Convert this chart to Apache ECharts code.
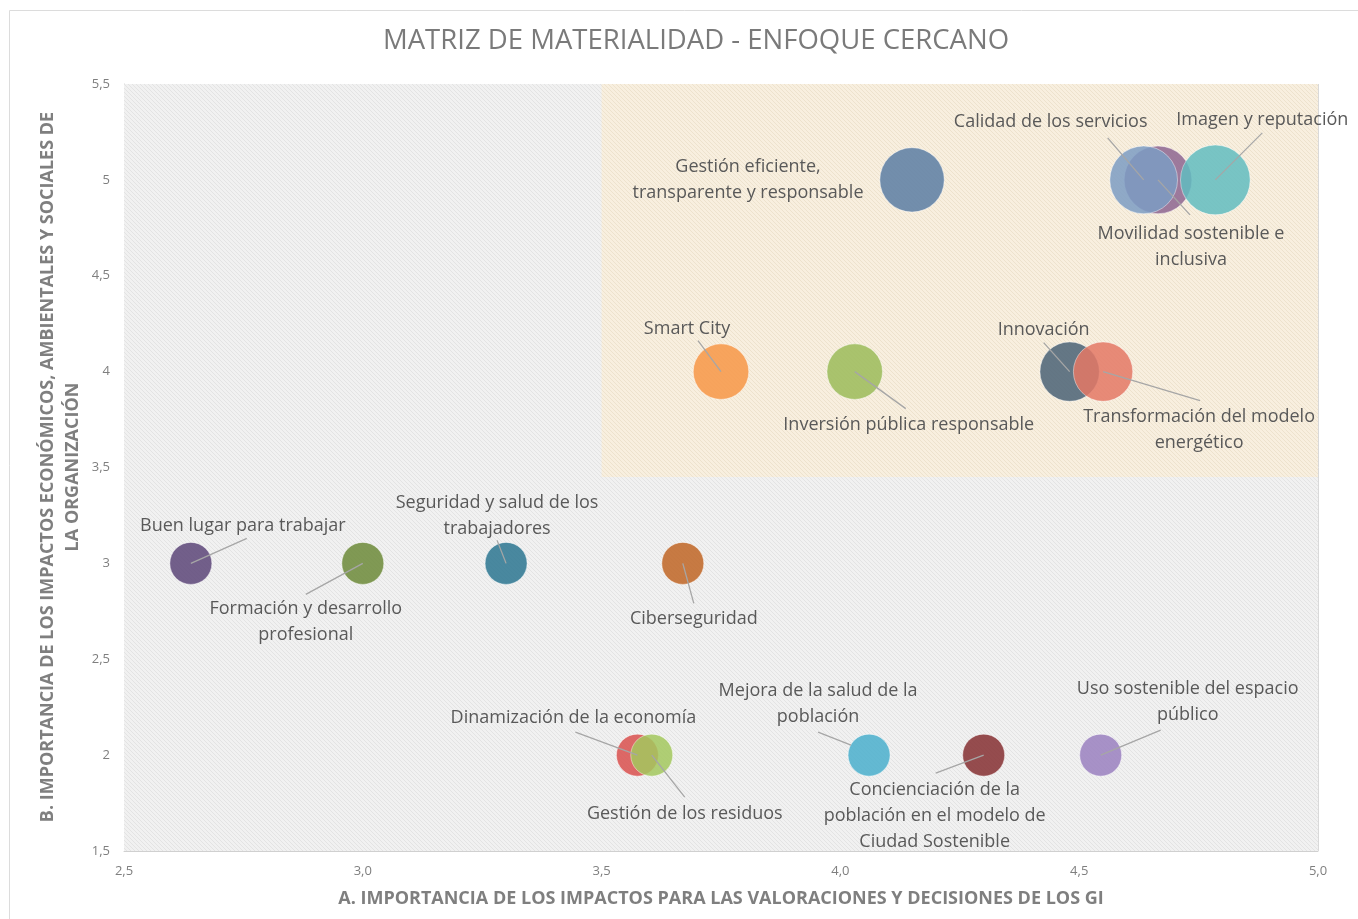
<!DOCTYPE html>
<html><head><meta charset="utf-8">
<script src="https://cdn.jsdelivr.net/npm/echarts@6/dist/echarts.min.js"></script>
<style>html,body{margin:0;padding:0;background:#fff}#c{width:1358px;height:919px}</style>
</head><body><div id="c"></div>
<script>
// ---------- DATA ----------
const temas = [
  'Buen lugar para trabajar',
  'Formación y desarrollo profesional',
  'Seguridad y salud de los trabajadores',
  'Ciberseguridad',
  'Smart City',
  'Inversión pública responsable',
  'Innovación',
  'Transformación del modelo energético',
  'Gestión eficiente, transparente y responsable',
  'Movilidad sostenible e inclusiva',
  'Calidad de los servicios',
  'Imagen y reputación',
  'Dinamización de la economía',
  'Gestión de los residuos',
  'Mejora de la salud de la población',
  'Concienciación de la población en el modelo de Ciudad Sostenible',
  'Uso sostenible del espacio público'
];
// A. Importancia para las valoraciones y decisiones de los GI
const importanciaA = [2.64, 3.00, 3.30, 3.67, 3.75, 4.03, 4.48, 4.55, 4.15, 4.665, 4.635, 4.785, 3.575, 3.605, 4.06, 4.30, 4.545];
// B. Importancia de los impactos económicos, ambientales y sociales
const importanciaB = [3, 3, 3, 3, 4, 4, 4, 4, 5, 5, 5, 5, 2, 2, 2, 2, 2];
// Peso (tamaño de la burbuja)
const peso = [2, 2, 2, 2, 3.5, 3.5, 4, 4, 4.7, 5.2, 5.2, 5.5, 2, 2, 2, 2, 2];
// Etiquetas mostradas
const etiquetas = [
  'Buen lugar para trabajar',
  'Formación y desarrollo\nprofesional',
  'Seguridad y salud de los\ntrabajadores',
  'Ciberseguridad',
  'Smart City',
  'Inversión pública responsable',
  'Innovación',
  'Transformación del modelo\nenergético',
  'Gestión eficiente,\ntransparente y responsable',
  'Movilidad sostenible e\ninclusiva',
  'Calidad de los servicios',
  'Imagen y reputación',
  'Dinamización de la economía',
  'Gestión de los residuos',
  'Mejora de la salud de la\npoblación',
  'Concienciación de la\npoblación en el modelo de\nCiudad Sostenible',
  'Uso sostenible del espacio\npúblico'
];
const xTickLabels = ['2,5', '3,0', '3,5', '4,0', '4,5', '5,0'];
const yTickLabels = ['1,5', '2', '2,5', '3', '3,5', '4', '4,5', '5', '5,5'];
const zonaX = [3.5, 5.0];
const zonaY = [3.45, 5.5];
const tituloEjeY = 'B. IMPORTANCIA DE LOS IMPACTOS ECONÓMICOS, AMBIENTALES Y SOCIALES DE\nLA ORGANIZACIÓN';

// ---------- STYLE / LAYOUT ----------
const colores = ['#5c4578', '#6c8a38', '#2c7690', '#bf6524', '#f79646', '#9bbb59', '#4a6275', '#e47865',
  '#5a7ca3', '#8d6590', '#7d9cc3', '#62bcbf', '#d9504e', '#a3c85e', '#4aafcc', '#852f31', '#9a80c0'];
// label offsets (px from bubble centre) and leader lines [x1,y1,x2,y2]
const ubicacion = [
  {dx: 52, dy: -38, line: [0, 0, 56, -25]},
  {dx: -57, dy: 58, line: [0, 0, -57, 31]},
  {dx: -9, dy: -48, line: [0, 0, -9, -23]},
  {dx: 11, dy: 55, line: [0, 0, 11, 40]},
  {dx: -34, dy: -43, line: [0, 0, -23, -31]},
  {dx: 54, dy: 53, line: [0, 0, 51, 37]},
  {dx: -26, dy: -42, line: [0, 0, -26, -29]},
  {dx: 96, dy: 58, line: [0, 0, 97, 29]},
  {dx: -164, dy: 0, line: null},
  {dx: 33, dy: 67, line: [0, 0, 32, 35]},
  {dx: -93, dy: -58, line: [0, 0, -36, -42]},
  {dx: 47, dy: -60, line: [0, 0, 47, -47]},
  {dx: -64, dy: -37, line: [0, 0, -62, -23]},
  {dx: 33, dy: 59, line: [0, 0, 33, 42]},
  {dx: -51, dy: -51, line: [-18, -10, -51, -23]},
  {dx: -49, dy: 61, line: [0, 0, -48, 18]},
  {dx: 87, dy: -53, line: [0, 0, 60, -25]}
];

function hatch(base, line) {
  const c = document.createElement('canvas');
  c.width = 4; c.height = 4;
  const g = c.getContext('2d');
  g.fillStyle = base; g.fillRect(0, 0, 4, 4);
  g.fillStyle = line;
  for (let i = 0; i < 4; i++) g.fillRect(i, i, 1, 1);
  return {image: c, repeat: 'repeat'};
}

const chart = echarts.init(document.getElementById('c'));
const FONT = '"Open Sans", "Noto Sans", sans-serif';
const puntos = temas.map((t, i) => [importanciaA[i], importanciaB[i], peso[i], i]);

chart.setOption({
  animation: false,
  backgroundColor: '#ffffff',
  graphic: [{
    type: 'rect', left: 7, top: 8, shape: {width: 1360, height: 920},
    style: {fill: 'none', stroke: '#dcdcdc', lineWidth: 1}, silent: true
  }, {
    type: 'text', x: 60, y: 467, rotation: Math.PI / 2, silent: true,
    style: {text: tituloEjeY, textAlign: 'center', textVerticalAlign: 'middle',
      font: 'bold 18px ' + FONT, fill: '#7f7f7f', lineHeight: 25}
  }],
  title: {
    text: 'MATRIZ DE MATERIALIDAD - ENFOQUE CERCANO',
    left: 378, top: 22,
    textStyle: {fontFamily: FONT, fontSize: 27.5, fontWeight: 'normal', color: '#7a7a7a'}
  },
  grid: {left: 124, right: 40, top: 84, bottom: 68},
  xAxis: {
    type: 'value', min: 2.5, max: 5.0, interval: 0.5,
    name: 'A. IMPORTANCIA DE LOS IMPACTOS PARA LAS VALORACIONES Y DECISIONES DE LOS GI',
    nameLocation: 'middle', nameGap: 39,
    nameTextStyle: {fontFamily: FONT, fontSize: 18, fontWeight: 'bold', color: '#7f7f7f'},
    axisLine: {show: true, lineStyle: {color: '#d0d0d0'}},
    axisTick: {show: false},
    axisLabel: {
      fontFamily: FONT, fontSize: 13, color: '#7f7f7f', margin: 14,
      formatter: v => xTickLabels[Math.round((v - 2.5) / 0.5)]
    },
    splitLine: {show: true, lineStyle: {color: '#d9d9d9'}}
  },
  yAxis: {
    type: 'value', min: 1.5, max: 5.5, interval: 0.5,
    axisLine: {show: true, lineStyle: {color: '#d0d0d0'}},
    axisTick: {show: false},
    axisLabel: {
      fontFamily: FONT, fontSize: 13, color: '#7f7f7f', margin: 14,
      formatter: v => yTickLabels[Math.round((v - 1.5) / 0.5)]
    },
    splitLine: {show: true, lineStyle: {color: '#d9d9d9'}}
  },
  series: [
    {
      type: 'scatter',
      z: 1,
      data: [],
      markArea: {
        silent: true,
        data: [
          [{coord: [2.5, 1.5], itemStyle: {color: hatch('#f1f1f1', '#e3e3e3')}}, {coord: [5.0, 5.5]}],
          [{coord: [zonaX[0], zonaY[0]], itemStyle: {color: hatch('#f8efdf', '#ede2cd')}}, {coord: [zonaX[1], zonaY[1]]}]
        ]
      }
    },
    {
      type: 'scatter',
      z: 3,
      data: puntos,
      symbolSize: v => 42 * Math.sqrt(v[2] / 2),
      itemStyle: {
        color: p => colores[p.value[3]],
        opacity: 0.85,
        borderColor: 'rgba(255,255,255,0.5)', borderWidth: 1
      }
    },
    {
      type: 'custom',
      z: 5,
      data: puntos,
      renderItem: (params, api) => {
        const i = api.value(3);
        const p = api.coord([api.value(0), api.value(1)]);
        const L = ubicacion[i];
        const ch = [];
        if (L.line) ch.push({
          type: 'line',
          shape: {x1: p[0] + L.line[0], y1: p[1] + L.line[1], x2: p[0] + L.line[2], y2: p[1] + L.line[3]},
          style: {stroke: '#a6a6a6', lineWidth: 1.3}
        });
        ch.push({
          type: 'text', x: p[0] + L.dx, y: p[1] + L.dy,
          style: {text: etiquetas[i], textAlign: 'center', textVerticalAlign: 'middle',
            fill: '#595959', font: '18px ' + FONT, lineHeight: 26}
        });
        return {type: 'group', children: ch};
      }
    }
  ]
});
</script></body></html>
